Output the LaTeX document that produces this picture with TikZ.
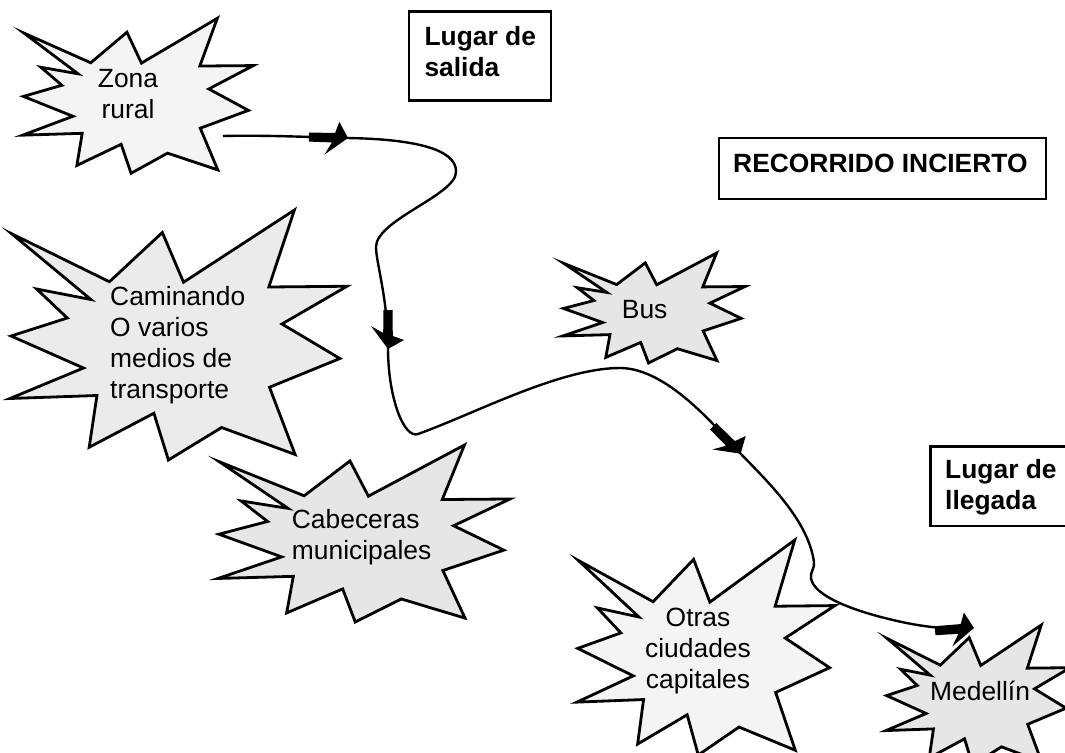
\documentclass[tikz,border=0pt]{standalone}
\usepackage{fontspec}
\setmainfont{Liberation Sans}
\usetikzlibrary{decorations.markings}
\definecolor{fillLight}{HTML}{F4F4F4}
\definecolor{fillMid}{HTML}{EBEBEB}
\definecolor{fillDark}{HTML}{E6E6E6}
\newcommand{\drawburst}[5]{%
  \begin{scope}[shift={(#1,#2)},xscale=#3,yscale=#4]
  \draw[burstline,fill=#5] (0.005,0.095) -- (0.295,0.287) -- (0.452,0.09) -- (0.515,0.289) -- (0.844,0) -- (0.768,0.308) -- (1,0.305) -- (0.807,0.456) -- (0.979,0.594) -- (0.77,0.709) -- (0.846,0.978) -- (0.628,0.87) -- (0.47,1) -- (0.427,0.813) -- (0.235,0.949) -- (0.258,0.742) -- (0,0.754) -- (0.218,0.632) -- (0.003,0.504) -- (0.17,0.432) -- (0.079,0.316) -- (0.24,0.358) -- cycle;
  \end{scope}}
\newcommand{\txtlines}[2]{\begin{tabular}[t]{@{}#1@{}}#2\end{tabular}}
\begin{document}
\begin{tikzpicture}[x=1pt,y=-1pt,
  burstline/.style={line width=2.8pt,line join=miter,miter limit=12},
  boxline/.style={line width=2.6pt},
  lbl/.style={font=\fontsize{26.4}{31}\selectfont,inner sep=0pt},
  boldlbl/.style={font=\fontsize{26.4}{31}\selectfont\bfseries,inner sep=0pt},
  curveline/.style={line width=2.4pt},
  tipmark/.style={postaction={decorate,decoration={markings,mark=at position 1 with {\fill (-38pt,-4.5pt) -- (-15pt,-4.8pt) -- (-22pt,-17pt) -- (1pt,0pt) -- (-8pt,16pt) -- (-12pt,4.8pt) -- (-38pt,4.5pt) -- cycle;}}}}]
\useasboundingbox (0,0) rectangle (1065,752);
\clip (0,0) rectangle (1065,752);
\fill[white] (0,0) rectangle (1065,752);

% starbursts
\drawburst{22.7}{18.3}{230.6}{155}{fillLight}
\drawburst{10}{210}{337}{250}{fillMid}
\drawburst{218}{445}{292}{177}{fillDark}
\drawburst{563}{253}{182}{110}{fillDark}
\drawburst{577}{540}{258}{215}{fillLight}
\drawburst{886}{625}{184}{140}{fillDark}

% texts in starbursts
\node[lbl,anchor=base] (zona) at (128,87.3) {\txtlines{c}{Zona\\rural}};
\node[lbl,anchor=base west] (caminando) at (110,305) {\txtlines{l}{Caminando\\O varios\\medios de\\transporte}};
\node[lbl,anchor=base west] (cabeceras) at (291.7,528.3) {\txtlines{l}{Cabeceras\\municipales}};
\node[lbl,anchor=base west] (bus) at (621.7,318.3) {Bus};
\node[lbl,anchor=base] (otras) at (698,626) {\txtlines{c}{Otras\\ciudades\\capitales}};
\node[lbl,anchor=base west] (medellin) at (930,700) {Medellín};

% boxes
\draw[boxline] (409,11.7) rectangle (551,100.7);
\node[boldlbl,anchor=base west] (salida) at (424.3,46) {\txtlines{l}{Lugar de\\salida}};
\draw[boxline] (719,138) rectangle (1046,199);
\node[boldlbl,anchor=base west] (recorrido) at (733,172.7) {RECORRIDO INCIERTO};
\draw[boxline] (930.7,446.7) rectangle (1080,526);
\node[boldlbl,anchor=base west] (llegada) at (945,478.3) {\txtlines{l}{Lugar de\\llegada}};

% route
\coordinate (S) at (223,136);
\coordinate (A1) at (347,138);
\coordinate (A2) at (388,348);
\coordinate (A3) at (740,453);
\coordinate (A4) at (973,628);
\draw[curveline,tipmark] (S) .. controls (265,135) and (305,137) .. (A1);
\draw[curveline,tipmark] (A1) .. controls (410,139) and (457,148) .. (456,172) .. controls (456,195) and (376,220) .. (376,247) .. controls (376,262) and (388,300) .. (A2);
\draw[curveline,tipmark] (A2) .. controls (388,398) and (404,439) .. (418,434) .. controls (474,414) and (560,368) .. (620,368) .. controls (670,368) and (722,435) .. (A3);
\draw[curveline,tipmark] (A3) .. controls (768,482) and (808,520) .. (814,562) .. controls (815,568) and (810,572) .. (811,578) .. controls (813,595) and (850,610) .. (893,620) .. controls (918,626) and (945,630) .. (A4);
\end{tikzpicture}
\end{document}
